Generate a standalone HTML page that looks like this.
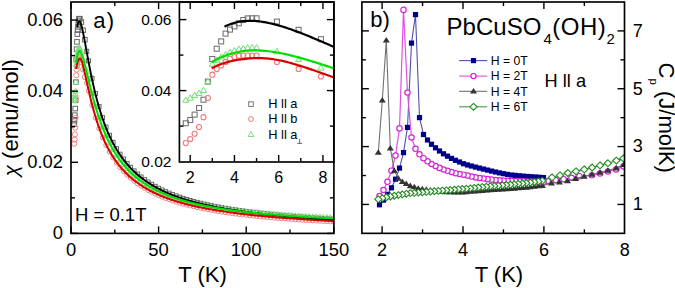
<!DOCTYPE html>
<html><head><meta charset="utf-8"><style>
html,body{margin:0;padding:0;background:#fff;overflow:hidden;}
svg{display:block;}
text{font-family:"Liberation Sans",sans-serif;fill:#000;}
</style></head><body>
<svg width="675" height="288" viewBox="0 0 675 288">
<rect width="675" height="288" fill="#fff"/>
<clipPath id="ca"><rect x="71.0" y="2.0" width="262.9" height="231.4"/></clipPath>
<g clip-path="url(#ca)">
<g fill="none" stroke="#666" stroke-width="1"><rect x="71.85" y="121.62" width="4.6" height="4.6"/><rect x="72.20" y="118.31" width="4.6" height="4.6"/><rect x="72.55" y="112.90" width="4.6" height="4.6"/><rect x="72.90" y="106.29" width="4.6" height="4.6"/><rect x="73.26" y="97.98" width="4.6" height="4.6"/><rect x="73.61" y="79.84" width="4.6" height="4.6"/><rect x="73.96" y="57.21" width="4.6" height="4.6"/><rect x="74.31" y="46.89" width="4.6" height="4.6"/><rect x="74.66" y="39.58" width="4.6" height="4.6"/><rect x="75.01" y="31.76" width="4.6" height="4.6"/><rect x="75.36" y="27.76" width="4.6" height="4.6"/><rect x="75.71" y="24.55" width="4.6" height="4.6"/><rect x="76.06" y="21.45" width="4.6" height="4.6"/><rect x="76.41" y="18.14" width="4.6" height="4.6"/><rect x="76.76" y="16.54" width="4.6" height="4.6"/><rect x="77.11" y="16.44" width="4.6" height="4.6"/><rect x="77.46" y="16.44" width="4.6" height="4.6"/><rect x="79.07" y="19.74" width="4.6" height="4.6"/><rect x="80.79" y="27.96" width="4.6" height="4.6"/><rect x="82.56" y="37.37" width="4.6" height="4.6"/><rect x="84.77" y="49.39" width="4.0" height="4.0"/><rect x="86.52" y="58.83" width="4.0" height="4.0"/><rect x="90.02" y="76.35" width="4.0" height="4.0"/><rect x="93.53" y="91.57" width="4.0" height="4.0"/><rect x="97.03" y="104.58" width="4.0" height="4.0"/><rect x="100.54" y="115.66" width="4.0" height="4.0"/><rect x="104.04" y="125.14" width="4.0" height="4.0"/><rect x="107.54" y="133.31" width="4.0" height="4.0"/><rect x="111.05" y="140.43" width="4.0" height="4.0"/><rect x="114.55" y="146.66" width="4.0" height="4.0"/><rect x="118.06" y="152.16" width="4.0" height="4.0"/><rect x="121.56" y="157.04" width="4.0" height="4.0"/><rect x="125.06" y="161.41" width="4.0" height="4.0"/><rect x="128.57" y="165.32" width="4.0" height="4.0"/><rect x="132.07" y="168.86" width="4.0" height="4.0"/><rect x="135.58" y="172.06" width="4.0" height="4.0"/><rect x="139.08" y="174.98" width="4.0" height="4.0"/><rect x="142.58" y="177.63" width="4.0" height="4.0"/><rect x="146.09" y="180.05" width="4.0" height="4.0"/><rect x="149.59" y="182.29" width="4.0" height="4.0"/><rect x="153.10" y="184.34" width="4.0" height="4.0"/><rect x="156.60" y="186.25" width="4.0" height="4.0"/><rect x="160.10" y="188.01" width="4.0" height="4.0"/><rect x="163.61" y="189.65" width="4.0" height="4.0"/><rect x="167.11" y="191.17" width="4.0" height="4.0"/><rect x="170.62" y="192.60" width="4.0" height="4.0"/><rect x="174.12" y="193.93" width="4.0" height="4.0"/><rect x="177.62" y="195.18" width="4.0" height="4.0"/><rect x="181.13" y="196.35" width="4.0" height="4.0"/><rect x="184.63" y="197.46" width="4.0" height="4.0"/><rect x="188.14" y="198.49" width="4.0" height="4.0"/><rect x="191.64" y="199.47" width="4.0" height="4.0"/><rect x="195.14" y="200.40" width="4.0" height="4.0"/><rect x="198.65" y="201.28" width="4.0" height="4.0"/><rect x="202.15" y="202.11" width="4.0" height="4.0"/><rect x="205.66" y="202.90" width="4.0" height="4.0"/><rect x="209.16" y="203.64" width="4.0" height="4.0"/><rect x="212.66" y="204.36" width="4.0" height="4.0"/><rect x="216.17" y="205.03" width="4.0" height="4.0"/><rect x="219.67" y="205.68" width="4.0" height="4.0"/><rect x="223.18" y="206.29" width="4.0" height="4.0"/><rect x="226.68" y="206.88" width="4.0" height="4.0"/><rect x="230.18" y="207.44" width="4.0" height="4.0"/><rect x="233.69" y="207.98" width="4.0" height="4.0"/><rect x="237.19" y="208.50" width="4.0" height="4.0"/><rect x="240.70" y="208.99" width="4.0" height="4.0"/><rect x="244.20" y="209.46" width="4.0" height="4.0"/><rect x="247.70" y="209.92" width="4.0" height="4.0"/><rect x="251.21" y="210.36" width="4.0" height="4.0"/><rect x="254.71" y="210.77" width="4.0" height="4.0"/><rect x="258.22" y="211.18" width="4.0" height="4.0"/><rect x="261.72" y="211.57" width="4.0" height="4.0"/><rect x="265.22" y="211.94" width="4.0" height="4.0"/><rect x="268.73" y="212.30" width="4.0" height="4.0"/><rect x="272.23" y="212.65" width="4.0" height="4.0"/><rect x="275.74" y="212.99" width="4.0" height="4.0"/><rect x="279.24" y="213.31" width="4.0" height="4.0"/><rect x="282.74" y="213.62" width="4.0" height="4.0"/><rect x="286.25" y="213.93" width="4.0" height="4.0"/><rect x="289.75" y="214.22" width="4.0" height="4.0"/><rect x="293.26" y="214.50" width="4.0" height="4.0"/><rect x="296.76" y="214.78" width="4.0" height="4.0"/><rect x="300.26" y="215.04" width="4.0" height="4.0"/><rect x="303.77" y="215.30" width="4.0" height="4.0"/><rect x="307.27" y="215.55" width="4.0" height="4.0"/><rect x="310.78" y="215.79" width="4.0" height="4.0"/><rect x="314.28" y="216.03" width="4.0" height="4.0"/><rect x="317.78" y="216.25" width="4.0" height="4.0"/><rect x="321.29" y="216.47" width="4.0" height="4.0"/><rect x="324.79" y="216.69" width="4.0" height="4.0"/><rect x="328.30" y="216.90" width="4.0" height="4.0"/><rect x="331.80" y="217.10" width="4.0" height="4.0"/></g>
<g fill="none" stroke="#f08080" stroke-width="1"><circle cx="74.15" cy="143.75" r="2.6"/><circle cx="74.50" cy="139.64" r="2.6"/><circle cx="74.85" cy="134.38" r="2.6"/><circle cx="75.20" cy="127.62" r="2.6"/><circle cx="75.56" cy="117.80" r="2.6"/><circle cx="75.91" cy="98.57" r="2.6"/><circle cx="76.26" cy="75.23" r="2.6"/><circle cx="76.61" cy="69.62" r="2.6"/><circle cx="76.96" cy="66.02" r="2.6"/><circle cx="77.31" cy="62.41" r="2.6"/><circle cx="77.66" cy="59.31" r="2.6"/><circle cx="78.01" cy="57.50" r="2.6"/><circle cx="78.36" cy="56.30" r="2.6"/><circle cx="78.71" cy="56.10" r="2.6"/><circle cx="79.06" cy="56.10" r="2.6"/><circle cx="79.41" cy="56.10" r="2.6"/><circle cx="79.76" cy="56.10" r="2.6"/><circle cx="81.37" cy="62.51" r="2.6"/><circle cx="83.09" cy="69.42" r="2.6"/><circle cx="84.86" cy="77.04" r="2.6"/><circle cx="86.77" cy="82.98" r="2.25"/><circle cx="88.52" cy="90.78" r="2.25"/><circle cx="92.02" cy="105.25" r="2.25"/><circle cx="95.53" cy="117.79" r="2.25"/><circle cx="99.03" cy="128.46" r="2.25"/><circle cx="102.54" cy="137.52" r="2.25"/><circle cx="106.04" cy="145.26" r="2.25"/><circle cx="109.54" cy="151.94" r="2.25"/><circle cx="113.05" cy="157.75" r="2.25"/><circle cx="116.55" cy="162.84" r="2.25"/><circle cx="120.06" cy="167.33" r="2.25"/><circle cx="123.56" cy="171.32" r="2.25"/><circle cx="127.06" cy="174.89" r="2.25"/><circle cx="130.57" cy="178.10" r="2.25"/><circle cx="134.07" cy="180.99" r="2.25"/><circle cx="137.58" cy="183.61" r="2.25"/><circle cx="141.08" cy="186.00" r="2.25"/><circle cx="144.58" cy="188.21" r="2.25"/><circle cx="148.09" cy="190.23" r="2.25"/><circle cx="151.59" cy="192.10" r="2.25"/><circle cx="155.10" cy="193.82" r="2.25"/><circle cx="158.60" cy="195.42" r="2.25"/><circle cx="162.10" cy="196.90" r="2.25"/><circle cx="165.61" cy="198.28" r="2.25"/><circle cx="169.11" cy="199.56" r="2.25"/><circle cx="172.62" cy="200.76" r="2.25"/><circle cx="176.12" cy="201.89" r="2.25"/><circle cx="179.62" cy="202.95" r="2.25"/><circle cx="183.13" cy="203.94" r="2.25"/><circle cx="186.63" cy="204.87" r="2.25"/><circle cx="190.14" cy="205.76" r="2.25"/><circle cx="193.64" cy="206.59" r="2.25"/><circle cx="197.14" cy="207.38" r="2.25"/><circle cx="200.65" cy="208.12" r="2.25"/><circle cx="204.15" cy="208.83" r="2.25"/><circle cx="207.66" cy="209.50" r="2.25"/><circle cx="211.16" cy="210.14" r="2.25"/><circle cx="214.66" cy="210.75" r="2.25"/><circle cx="218.17" cy="211.33" r="2.25"/><circle cx="221.67" cy="211.88" r="2.25"/><circle cx="225.18" cy="212.41" r="2.25"/><circle cx="228.68" cy="212.92" r="2.25"/><circle cx="232.18" cy="213.40" r="2.25"/><circle cx="235.69" cy="213.86" r="2.25"/><circle cx="239.19" cy="214.31" r="2.25"/><circle cx="242.70" cy="214.73" r="2.25"/><circle cx="246.20" cy="215.14" r="2.25"/><circle cx="249.70" cy="215.53" r="2.25"/><circle cx="253.21" cy="215.91" r="2.25"/><circle cx="256.71" cy="216.27" r="2.25"/><circle cx="260.22" cy="216.62" r="2.25"/><circle cx="263.72" cy="216.96" r="2.25"/><circle cx="267.22" cy="217.28" r="2.25"/><circle cx="270.73" cy="217.59" r="2.25"/><circle cx="274.23" cy="217.90" r="2.25"/><circle cx="277.74" cy="218.19" r="2.25"/><circle cx="281.24" cy="218.47" r="2.25"/><circle cx="284.74" cy="218.74" r="2.25"/><circle cx="288.25" cy="219.01" r="2.25"/><circle cx="291.75" cy="219.26" r="2.25"/><circle cx="295.26" cy="219.51" r="2.25"/><circle cx="298.76" cy="219.75" r="2.25"/><circle cx="302.26" cy="219.98" r="2.25"/><circle cx="305.77" cy="220.20" r="2.25"/><circle cx="309.27" cy="220.42" r="2.25"/><circle cx="312.78" cy="220.63" r="2.25"/><circle cx="316.28" cy="220.84" r="2.25"/><circle cx="319.78" cy="221.04" r="2.25"/><circle cx="323.29" cy="221.23" r="2.25"/><circle cx="326.79" cy="221.42" r="2.25"/><circle cx="330.30" cy="221.60" r="2.25"/><circle cx="333.80" cy="221.78" r="2.25"/></g>
<g fill="none" stroke="#80e080" stroke-width="1"><path d="M74.15,97.68 L77.05,102.68 L71.25,102.68 Z"/><path d="M74.50,95.57 L77.40,100.57 L71.60,100.57 Z"/><path d="M74.85,92.87 L77.75,97.87 L71.95,97.87 Z"/><path d="M75.20,90.76 L78.10,95.76 L72.30,95.76 Z"/><path d="M75.56,87.96 L78.46,92.96 L72.66,92.96 Z"/><path d="M75.91,79.24 L78.81,84.24 L73.01,84.24 Z"/><path d="M76.26,61.62 L79.16,66.62 L73.36,66.62 Z"/><path d="M76.61,57.61 L79.51,62.61 L73.71,62.61 Z"/><path d="M76.96,54.40 L79.86,59.40 L74.06,59.40 Z"/><path d="M77.31,52.00 L80.21,57.00 L74.41,57.00 Z"/><path d="M77.66,49.90 L80.56,54.90 L74.76,54.90 Z"/><path d="M78.01,48.19 L80.91,53.19 L75.11,53.19 Z"/><path d="M78.36,46.59 L81.26,51.59 L75.46,51.59 Z"/><path d="M78.71,45.99 L81.61,50.99 L75.81,50.99 Z"/><path d="M79.06,45.19 L81.96,50.19 L76.16,50.19 Z"/><path d="M79.41,45.09 L82.31,50.09 L76.51,50.09 Z"/><path d="M79.76,45.29 L82.66,50.29 L76.86,50.29 Z"/><path d="M81.37,49.09 L84.27,54.09 L78.47,54.09 Z"/><path d="M83.09,56.91 L85.99,61.91 L80.19,61.91 Z"/><path d="M84.86,65.42 L87.76,70.42 L81.96,70.42 Z"/><path d="M86.77,69.19 L89.57,73.99 L83.97,73.99 Z"/><path d="M88.52,76.58 L91.32,81.38 L85.72,81.38 Z"/><path d="M92.02,90.70 L94.82,95.50 L89.22,95.50 Z"/><path d="M95.53,103.38 L98.33,108.18 L92.73,108.18 Z"/><path d="M99.03,114.51 L101.83,119.31 L96.23,119.31 Z"/><path d="M102.54,124.21 L105.34,129.01 L99.74,129.01 Z"/><path d="M106.04,132.65 L108.84,137.45 L103.24,137.45 Z"/><path d="M109.54,140.03 L112.34,144.83 L106.74,144.83 Z"/><path d="M113.05,146.50 L115.85,151.30 L110.25,151.30 Z"/><path d="M116.55,152.20 L119.35,157.00 L113.75,157.00 Z"/><path d="M120.06,157.25 L122.86,162.05 L117.26,162.05 Z"/><path d="M123.56,161.75 L126.36,166.55 L120.76,166.55 Z"/><path d="M127.06,165.77 L129.86,170.57 L124.26,170.57 Z"/><path d="M130.57,169.38 L133.37,174.18 L127.77,174.18 Z"/><path d="M134.07,172.64 L136.87,177.44 L131.27,177.44 Z"/><path d="M137.58,175.59 L140.38,180.39 L134.78,180.39 Z"/><path d="M141.08,178.28 L143.88,183.08 L138.28,183.08 Z"/><path d="M144.58,180.68 L147.38,185.48 L141.78,185.48 Z"/><path d="M148.09,182.88 L150.89,187.68 L145.29,187.68 Z"/><path d="M151.59,184.89 L154.39,189.69 L148.79,189.69 Z"/><path d="M155.10,186.75 L157.90,191.55 L152.30,191.55 Z"/><path d="M158.60,188.46 L161.40,193.26 L155.80,193.26 Z"/><path d="M162.10,190.03 L164.90,194.83 L159.30,194.83 Z"/><path d="M165.61,191.50 L168.41,196.30 L162.81,196.30 Z"/><path d="M169.11,192.86 L171.91,197.66 L166.31,197.66 Z"/><path d="M172.62,194.12 L175.42,198.92 L169.82,198.92 Z"/><path d="M176.12,195.30 L178.92,200.10 L173.32,200.10 Z"/><path d="M179.62,196.40 L182.42,201.20 L176.82,201.20 Z"/><path d="M183.13,197.43 L185.93,202.23 L180.33,202.23 Z"/><path d="M186.63,198.40 L189.43,203.20 L183.83,203.20 Z"/><path d="M190.14,199.30 L192.94,204.10 L187.34,204.10 Z"/><path d="M193.64,200.16 L196.44,204.96 L190.84,204.96 Z"/><path d="M197.14,200.96 L199.94,205.76 L194.34,205.76 Z"/><path d="M200.65,201.72 L203.45,206.52 L197.85,206.52 Z"/><path d="M204.15,202.43 L206.95,207.23 L201.35,207.23 Z"/><path d="M207.66,203.11 L210.46,207.91 L204.86,207.91 Z"/><path d="M211.16,203.75 L213.96,208.55 L208.36,208.55 Z"/><path d="M214.66,204.36 L217.46,209.16 L211.86,209.16 Z"/><path d="M218.17,204.93 L220.97,209.73 L215.37,209.73 Z"/><path d="M221.67,205.48 L224.47,210.28 L218.87,210.28 Z"/><path d="M225.18,206.00 L227.98,210.80 L222.38,210.80 Z"/><path d="M228.68,206.49 L231.48,211.29 L225.88,211.29 Z"/><path d="M232.18,206.97 L234.98,211.77 L229.38,211.77 Z"/><path d="M235.69,207.41 L238.49,212.21 L232.89,212.21 Z"/><path d="M239.19,207.84 L241.99,212.64 L236.39,212.64 Z"/><path d="M242.70,208.25 L245.50,213.05 L239.90,213.05 Z"/><path d="M246.20,208.64 L249.00,213.44 L243.40,213.44 Z"/><path d="M249.70,209.02 L252.50,213.82 L246.90,213.82 Z"/><path d="M253.21,209.37 L256.01,214.17 L250.41,214.17 Z"/><path d="M256.71,209.72 L259.51,214.52 L253.91,214.52 Z"/><path d="M260.22,210.05 L263.02,214.85 L257.42,214.85 Z"/><path d="M263.72,210.36 L266.52,215.16 L260.92,215.16 Z"/><path d="M267.22,210.66 L270.02,215.46 L264.42,215.46 Z"/><path d="M270.73,210.95 L273.53,215.75 L267.93,215.75 Z"/><path d="M274.23,211.23 L277.03,216.03 L271.43,216.03 Z"/><path d="M277.74,211.50 L280.54,216.30 L274.94,216.30 Z"/><path d="M281.24,211.76 L284.04,216.56 L278.44,216.56 Z"/><path d="M284.74,212.01 L287.54,216.81 L281.94,216.81 Z"/><path d="M288.25,212.24 L291.05,217.04 L285.45,217.04 Z"/><path d="M291.75,212.47 L294.55,217.27 L288.95,217.27 Z"/><path d="M295.26,212.70 L298.06,217.50 L292.46,217.50 Z"/><path d="M298.76,212.91 L301.56,217.71 L295.96,217.71 Z"/><path d="M302.26,213.11 L305.06,217.91 L299.46,217.91 Z"/><path d="M305.77,213.31 L308.57,218.11 L302.97,218.11 Z"/><path d="M309.27,213.50 L312.07,218.30 L306.47,218.30 Z"/><path d="M312.78,213.69 L315.58,218.49 L309.98,218.49 Z"/><path d="M316.28,213.87 L319.08,218.67 L313.48,218.67 Z"/><path d="M319.78,214.04 L322.58,218.84 L316.98,218.84 Z"/><path d="M323.29,214.21 L326.09,219.01 L320.49,219.01 Z"/><path d="M326.79,214.37 L329.59,219.17 L323.99,219.17 Z"/><path d="M330.30,214.52 L333.10,219.32 L327.50,219.32 Z"/><path d="M333.80,214.67 L336.60,219.47 L331.00,219.47 Z"/></g>
<path d="M76.20,68.84 L76.45,67.21 L76.70,65.80 L76.96,64.58 L77.21,63.52 L77.46,62.61 L77.71,61.82 L77.96,61.13 L78.21,60.54 L78.46,60.03 L78.71,59.59 L78.96,59.22 L79.21,58.94 L79.46,58.73 L79.71,58.62 L79.96,58.60 L80.21,58.68 L80.46,58.86 L80.72,59.14 L80.97,59.51 L81.22,59.98 L81.47,60.55 L81.72,61.20 L81.97,61.92 L82.22,62.71 L82.47,63.56 L82.72,64.46 L82.97,65.40 L83.22,66.38 L83.47,67.39 L83.72,68.43 L83.97,69.49 L84.22,70.57 L84.48,71.67 L84.73,72.77 L84.98,73.89 L85.23,75.01 L85.48,76.14 L85.73,77.28 L85.98,78.41 L86.07,78.81 L86.38,80.24 L86.70,81.67 L87.01,83.09 L87.33,84.51 L87.64,85.92 L87.96,87.33 L88.27,88.72 L88.59,90.11 L88.90,91.48 L89.22,92.84 L89.53,94.18 L89.85,95.51 L90.16,96.83 L90.48,98.13 L90.79,99.42 L91.11,100.69 L91.42,101.95 L91.74,103.19 L92.05,104.42 L92.37,105.62 L92.68,106.82 L93.00,107.99 L93.31,109.15 L93.63,110.30 L93.94,111.43 L94.26,112.54 L94.57,113.64 L94.89,114.72 L95.20,115.78 L95.52,116.83 L95.83,117.87 L96.15,118.89 L96.46,119.90 L96.78,120.89 L97.09,121.86 L97.41,122.83 L97.72,123.77 L98.04,124.71 L98.35,125.63 L98.67,126.53 L98.98,127.43 L99.30,128.31 L99.62,129.18 L99.93,130.03 L100.25,130.87 L100.56,131.70 L100.88,132.52 L101.19,133.33 L101.51,134.12 L101.82,134.91 L102.14,135.68 L102.45,136.44 L102.77,137.19 L103.08,137.93 L103.40,138.66 L103.71,139.38 L104.03,140.09 L104.34,140.79 L104.66,141.48 L104.97,142.17 L105.29,142.84 L105.60,143.50 L105.92,144.16 L106.23,144.80 L106.55,145.44 L106.86,146.07 L107.18,146.69 L107.49,147.30 L107.81,147.91 L108.12,148.51 L108.44,149.10 L108.75,149.68 L109.07,150.26 L109.38,150.82 L109.70,151.39 L110.01,151.94 L110.33,152.49 L110.64,153.03 L110.96,153.56 L111.27,154.09 L111.59,154.61 L111.90,155.12 L112.22,155.63 L112.53,156.14 L112.85,156.63 L113.16,157.12 L113.48,157.61 L113.79,158.09 L114.11,158.56 L114.42,159.03 L114.74,159.50 L115.05,159.95 L115.37,160.41 L115.68,160.85 L116.00,161.30 L116.31,161.73 L116.63,162.17 L116.94,162.60 L117.26,163.02 L117.57,163.44 L117.89,163.85 L118.20,164.26 L118.52,164.67 L118.83,165.07 L119.15,165.46 L119.46,165.86 L119.78,166.24 L120.09,166.63 L120.41,167.01 L120.72,167.38 L121.04,167.76 L121.35,168.12 L121.67,168.49 L121.98,168.85 L122.30,169.21 L122.61,169.56 L122.93,169.91 L123.24,170.26 L123.56,170.60 L123.91,170.98 L125.67,172.81 L127.44,174.55 L129.20,176.20 L130.97,177.77 L132.73,179.26 L134.49,180.67 L136.26,182.02 L138.02,183.31 L139.78,184.53 L141.55,185.70 L143.31,186.83 L145.08,187.90 L146.84,188.93 L148.60,189.91 L150.37,190.85 L152.13,191.76 L153.89,192.63 L155.66,193.47 L157.42,194.28 L159.19,195.05 L160.95,195.80 L162.71,196.52 L164.48,197.22 L166.24,197.89 L168.00,198.54 L169.77,199.16 L171.53,199.77 L173.30,200.36 L175.06,200.92 L176.82,201.47 L178.59,202.00 L180.35,202.52 L182.12,203.02 L183.88,203.50 L185.64,203.97 L187.41,204.43 L189.17,204.87 L190.93,205.30 L192.70,205.72 L194.46,206.12 L196.23,206.52 L197.99,206.90 L199.75,207.27 L201.52,207.64 L203.28,207.99 L205.04,208.34 L206.81,208.68 L208.57,209.00 L210.34,209.32 L212.10,209.63 L213.86,209.94 L215.63,210.24 L217.39,210.53 L219.15,210.81 L220.92,211.08 L222.68,211.35 L224.45,211.62 L226.21,211.88 L227.97,212.13 L229.74,212.37 L231.50,212.61 L233.26,212.85 L235.03,213.08 L236.79,213.31 L238.56,213.53 L240.32,213.74 L242.08,213.95 L243.85,214.16 L245.61,214.36 L247.37,214.56 L249.14,214.76 L250.90,214.95 L252.67,215.14 L254.43,215.32 L256.19,215.50 L257.96,215.68 L259.72,215.85 L261.49,216.02 L263.25,216.19 L265.01,216.35 L266.78,216.51 L268.54,216.67 L270.30,216.82 L272.07,216.98 L273.83,217.12 L275.60,217.27 L277.36,217.42 L279.12,217.56 L280.89,217.70 L282.65,217.83 L284.41,217.97 L286.18,218.10 L287.94,218.23 L289.71,218.36 L291.47,218.48 L293.23,218.61 L295.00,218.73 L296.76,218.85 L298.52,218.97 L300.29,219.08 L302.05,219.20 L303.82,219.31 L305.58,219.42 L307.34,219.53 L309.11,219.64 L310.87,219.74 L312.63,219.85 L314.40,219.95 L316.16,220.05 L317.93,220.15 L319.69,220.25 L321.45,220.34 L323.22,220.44 L324.98,220.53 L326.74,220.63 L328.51,220.72 L330.27,220.81 L332.04,220.89 L333.80,220.98" fill="none" stroke="#d80000" stroke-width="2"/>
<path d="M77.22,27.26 L77.44,25.88 L77.67,24.70 L77.89,23.72 L78.12,22.92 L78.34,22.30 L78.57,21.83 L78.79,21.50 L79.02,21.31 L79.24,21.25 L79.47,21.31 L79.69,21.47 L79.91,21.73 L80.14,22.09 L80.36,22.53 L80.59,23.06 L80.81,23.65 L81.04,24.31 L81.26,25.04 L81.49,25.82 L81.71,26.65 L81.94,27.53 L82.16,28.46 L82.39,29.42 L82.61,30.42 L82.83,31.45 L83.06,32.52 L83.28,33.61 L83.51,34.72 L83.73,35.86 L83.96,37.01 L84.18,38.18 L84.41,39.36 L84.63,40.56 L84.86,41.76 L85.08,42.97 L85.31,44.19 L85.53,45.41 L85.75,46.64 L85.98,47.87 L86.07,48.35 L86.38,50.07 L86.70,51.79 L87.01,53.51 L87.33,55.22 L87.64,56.93 L87.96,58.62 L88.27,60.30 L88.59,61.97 L88.90,63.62 L89.22,65.26 L89.53,66.89 L89.85,68.49 L90.16,70.08 L90.48,71.66 L90.79,73.21 L91.11,74.75 L91.42,76.27 L91.74,77.77 L92.05,79.25 L92.37,80.71 L92.68,82.15 L93.00,83.57 L93.31,84.98 L93.63,86.36 L93.94,87.73 L94.26,89.08 L94.57,90.41 L94.89,91.72 L95.20,93.01 L95.52,94.28 L95.83,95.54 L96.15,96.78 L96.46,98.00 L96.78,99.20 L97.09,100.38 L97.41,101.55 L97.72,102.70 L98.04,103.84 L98.35,104.96 L98.67,106.06 L98.98,107.15 L99.30,108.22 L99.62,109.27 L99.93,110.31 L100.25,111.34 L100.56,112.35 L100.88,113.35 L101.19,114.33 L101.51,115.30 L101.82,116.25 L102.14,117.19 L102.45,118.12 L102.77,119.03 L103.08,119.93 L103.40,120.82 L103.71,121.70 L104.03,122.57 L104.34,123.42 L104.66,124.26 L104.97,125.09 L105.29,125.91 L105.60,126.72 L105.92,127.52 L106.23,128.30 L106.55,129.08 L106.86,129.85 L107.18,130.60 L107.49,131.35 L107.81,132.09 L108.12,132.81 L108.44,133.53 L108.75,134.24 L109.07,134.94 L109.38,135.63 L109.70,136.31 L110.01,136.99 L110.33,137.65 L110.64,138.31 L110.96,138.96 L111.27,139.60 L111.59,140.24 L111.90,140.86 L112.22,141.48 L112.53,142.09 L112.85,142.70 L113.16,143.29 L113.48,143.88 L113.79,144.46 L114.11,145.04 L114.42,145.61 L114.74,146.17 L115.05,146.73 L115.37,147.28 L115.68,147.82 L116.00,148.36 L116.31,148.89 L116.63,149.42 L116.94,149.94 L117.26,150.45 L117.57,150.96 L117.89,151.46 L118.20,151.96 L118.52,152.45 L118.83,152.93 L119.15,153.42 L119.46,153.89 L119.78,154.36 L120.09,154.83 L120.41,155.29 L120.72,155.74 L121.04,156.19 L121.35,156.64 L121.67,157.08 L121.98,157.52 L122.30,157.95 L122.61,158.38 L122.93,158.80 L123.24,159.22 L123.56,159.64 L123.91,160.09 L125.67,162.31 L127.44,164.42 L129.20,166.41 L130.97,168.30 L132.73,170.09 L134.49,171.80 L136.26,173.42 L138.02,174.96 L139.78,176.44 L141.55,177.85 L143.31,179.19 L145.08,180.48 L146.84,181.71 L148.60,182.89 L150.37,184.02 L152.13,185.10 L153.89,186.14 L155.66,187.14 L157.42,188.11 L159.19,189.03 L160.95,189.92 L162.71,190.78 L164.48,191.61 L166.24,192.40 L168.00,193.17 L169.77,193.92 L171.53,194.64 L173.30,195.33 L175.06,196.00 L176.82,196.65 L178.59,197.28 L180.35,197.89 L182.12,198.48 L183.88,199.05 L185.64,199.60 L187.41,200.14 L189.17,200.66 L190.93,201.17 L192.70,201.66 L194.46,202.14 L196.23,202.61 L197.99,203.06 L199.75,203.50 L201.52,203.92 L203.28,204.34 L205.04,204.75 L206.81,205.14 L208.57,205.52 L210.34,205.90 L212.10,206.26 L213.86,206.62 L215.63,206.97 L217.39,207.31 L219.15,207.64 L220.92,207.96 L222.68,208.27 L224.45,208.58 L226.21,208.88 L227.97,209.18 L229.74,209.46 L231.50,209.74 L233.26,210.02 L235.03,210.29 L236.79,210.55 L238.56,210.80 L240.32,211.06 L242.08,211.30 L243.85,211.54 L245.61,211.78 L247.37,212.01 L249.14,212.23 L250.90,212.46 L252.67,212.67 L254.43,212.89 L256.19,213.09 L257.96,213.30 L259.72,213.50 L261.49,213.70 L263.25,213.89 L265.01,214.08 L266.78,214.26 L268.54,214.45 L270.30,214.62 L272.07,214.80 L273.83,214.97 L275.60,215.14 L277.36,215.31 L279.12,215.47 L280.89,215.63 L282.65,215.79 L284.41,215.94 L286.18,216.10 L287.94,216.25 L289.71,216.39 L291.47,216.54 L293.23,216.68 L295.00,216.82 L296.76,216.96 L298.52,217.09 L300.29,217.23 L302.05,217.36 L303.82,217.49 L305.58,217.61 L307.34,217.74 L309.11,217.86 L310.87,217.98 L312.63,218.10 L314.40,218.22 L316.16,218.34 L317.93,218.45 L319.69,218.56 L321.45,218.67 L323.22,218.78 L324.98,218.89 L326.74,218.99 L328.51,219.10 L330.27,219.20 L332.04,219.30 L333.80,219.40" fill="none" stroke="#000" stroke-width="1.9"/>
<path d="M76.20,62.83 L76.45,60.99 L76.70,59.33 L76.96,57.84 L77.21,56.51 L77.46,55.35 L77.71,54.34 L77.96,53.47 L78.21,52.74 L78.46,52.14 L78.71,51.67 L78.96,51.32 L79.21,51.09 L79.46,50.96 L79.71,50.93 L79.96,51.00 L80.21,51.16 L80.46,51.41 L80.72,51.74 L80.97,52.14 L81.22,52.62 L81.47,53.17 L81.72,53.78 L81.97,54.44 L82.22,55.15 L82.47,55.91 L82.72,56.71 L82.97,57.54 L83.22,58.41 L83.47,59.31 L83.72,60.23 L83.97,61.17 L84.22,62.14 L84.48,63.12 L84.73,64.12 L84.98,65.13 L85.23,66.15 L85.48,67.18 L85.73,68.22 L85.98,69.26 L86.07,69.63 L86.38,70.95 L86.70,72.27 L87.01,73.60 L87.33,74.93 L87.64,76.26 L87.96,77.59 L88.27,78.91 L88.59,80.23 L88.90,81.54 L89.22,82.84 L89.53,84.14 L89.85,85.43 L90.16,86.70 L90.48,87.97 L90.79,89.23 L91.11,90.48 L91.42,91.71 L91.74,92.93 L92.05,94.15 L92.37,95.35 L92.68,96.53 L93.00,97.71 L93.31,98.87 L93.63,100.02 L93.94,101.16 L94.26,102.28 L94.57,103.40 L94.89,104.50 L95.20,105.58 L95.52,106.66 L95.83,107.72 L96.15,108.76 L96.46,109.80 L96.78,110.82 L97.09,111.83 L97.41,112.83 L97.72,113.82 L98.04,114.79 L98.35,115.75 L98.67,116.70 L98.98,117.64 L99.30,118.57 L99.62,119.49 L99.93,120.39 L100.25,121.28 L100.56,122.16 L100.88,123.04 L101.19,123.90 L101.51,124.74 L101.82,125.58 L102.14,126.41 L102.45,127.23 L102.77,128.04 L103.08,128.83 L103.40,129.62 L103.71,130.40 L104.03,131.17 L104.34,131.93 L104.66,132.68 L104.97,133.42 L105.29,134.15 L105.60,134.87 L105.92,135.59 L106.23,136.29 L106.55,136.99 L106.86,137.68 L107.18,138.36 L107.49,139.03 L107.81,139.69 L108.12,140.35 L108.44,140.99 L108.75,141.63 L109.07,142.27 L109.38,142.89 L109.70,143.51 L110.01,144.12 L110.33,144.72 L110.64,145.32 L110.96,145.91 L111.27,146.49 L111.59,147.06 L111.90,147.63 L112.22,148.20 L112.53,148.75 L112.85,149.30 L113.16,149.84 L113.48,150.38 L113.79,150.91 L114.11,151.44 L114.42,151.96 L114.74,152.47 L115.05,152.98 L115.37,153.48 L115.68,153.98 L116.00,154.47 L116.31,154.95 L116.63,155.43 L116.94,155.91 L117.26,156.38 L117.57,156.84 L117.89,157.30 L118.20,157.76 L118.52,158.21 L118.83,158.65 L119.15,159.09 L119.46,159.53 L119.78,159.96 L120.09,160.39 L120.41,160.81 L120.72,161.23 L121.04,161.64 L121.35,162.05 L121.67,162.46 L121.98,162.86 L122.30,163.25 L122.61,163.65 L122.93,164.04 L123.24,164.42 L123.56,164.80 L123.91,165.22 L125.67,167.26 L127.44,169.19 L129.20,171.02 L130.97,172.76 L132.73,174.40 L134.49,175.97 L136.26,177.46 L138.02,178.87 L139.78,180.23 L141.55,181.51 L143.31,182.75 L145.08,183.92 L146.84,185.05 L148.60,186.12 L150.37,187.15 L152.13,188.14 L153.89,189.09 L155.66,190.00 L157.42,190.87 L159.19,191.71 L160.95,192.52 L162.71,193.30 L164.48,194.05 L166.24,194.77 L168.00,195.47 L169.77,196.14 L171.53,196.78 L173.30,197.41 L175.06,198.01 L176.82,198.60 L178.59,199.16 L180.35,199.71 L182.12,200.24 L183.88,200.75 L185.64,201.24 L187.41,201.72 L189.17,202.19 L190.93,202.64 L192.70,203.08 L194.46,203.50 L196.23,203.92 L197.99,204.32 L199.75,204.71 L201.52,205.09 L203.28,205.46 L205.04,205.81 L206.81,206.16 L208.57,206.50 L210.34,206.83 L212.10,207.15 L213.86,207.47 L215.63,207.77 L217.39,208.07 L219.15,208.36 L220.92,208.64 L222.68,208.92 L224.45,209.19 L226.21,209.45 L227.97,209.71 L229.74,209.96 L231.50,210.21 L233.26,210.44 L235.03,210.68 L236.79,210.91 L238.56,211.13 L240.32,211.35 L242.08,211.56 L243.85,211.77 L245.61,211.98 L247.37,212.18 L249.14,212.37 L250.90,212.56 L252.67,212.75 L254.43,212.93 L256.19,213.11 L257.96,213.29 L259.72,213.46 L261.49,213.63 L263.25,213.80 L265.01,213.96 L266.78,214.12 L268.54,214.28 L270.30,214.43 L272.07,214.58 L273.83,214.73 L275.60,214.87 L277.36,215.01 L279.12,215.15 L280.89,215.29 L282.65,215.43 L284.41,215.56 L286.18,215.69 L287.94,215.81 L289.71,215.94 L291.47,216.06 L293.23,216.18 L295.00,216.30 L296.76,216.42 L298.52,216.53 L300.29,216.65 L302.05,216.76 L303.82,216.87 L305.58,216.97 L307.34,217.08 L309.11,217.18 L310.87,217.28 L312.63,217.38 L314.40,217.48 L316.16,217.58 L317.93,217.68 L319.69,217.77 L321.45,217.86 L323.22,217.95 L324.98,218.04 L326.74,218.13 L328.51,218.22 L330.27,218.30 L332.04,218.39 L333.80,218.47" fill="none" stroke="#00dd00" stroke-width="2"/>
</g>
<rect x="179.4" y="2.0" width="154.50" height="160.00" fill="#fff"/>
<clipPath id="ci"><rect x="179.4" y="2.0" width="154.50" height="160.00"/></clipPath>
<g clip-path="url(#ci)">
<g fill="none" stroke="#707070" stroke-width="1.05"><rect x="183.28" y="120.80" width="5.0" height="5.0"/><rect x="187.70" y="117.50" width="5.0" height="5.0"/><rect x="192.12" y="112.10" width="5.0" height="5.0"/><rect x="196.55" y="105.50" width="5.0" height="5.0"/><rect x="200.97" y="97.20" width="5.0" height="5.0"/><rect x="205.40" y="79.10" width="5.0" height="5.0"/><rect x="209.82" y="56.50" width="5.0" height="5.0"/><rect x="214.24" y="46.20" width="5.0" height="5.0"/><rect x="218.67" y="38.90" width="5.0" height="5.0"/><rect x="223.09" y="31.10" width="5.0" height="5.0"/><rect x="227.52" y="27.10" width="5.0" height="5.0"/><rect x="231.94" y="23.90" width="5.0" height="5.0"/><rect x="236.36" y="20.80" width="5.0" height="5.0"/><rect x="240.79" y="17.50" width="5.0" height="5.0"/><rect x="245.21" y="15.90" width="5.0" height="5.0"/><rect x="249.64" y="15.80" width="5.0" height="5.0"/><rect x="254.06" y="15.80" width="5.0" height="5.0"/><rect x="274.41" y="19.10" width="5.0" height="5.0"/><rect x="296.09" y="27.30" width="5.0" height="5.0"/><rect x="318.43" y="36.70" width="5.0" height="5.0"/></g>
<g fill="none" stroke="#f07878" stroke-width="1.05"><circle cx="185.78" cy="143.10" r="2.55"/><circle cx="190.20" cy="139.00" r="2.55"/><circle cx="194.62" cy="133.75" r="2.55"/><circle cx="199.05" cy="127.00" r="2.55"/><circle cx="203.47" cy="117.20" r="2.55"/><circle cx="207.90" cy="98.00" r="2.55"/><circle cx="212.32" cy="74.70" r="2.55"/><circle cx="216.74" cy="69.10" r="2.55"/><circle cx="221.17" cy="65.50" r="2.55"/><circle cx="225.59" cy="61.90" r="2.55"/><circle cx="230.02" cy="58.80" r="2.55"/><circle cx="234.44" cy="57.00" r="2.55"/><circle cx="238.86" cy="55.80" r="2.55"/><circle cx="243.29" cy="55.60" r="2.55"/><circle cx="247.71" cy="55.60" r="2.55"/><circle cx="252.14" cy="55.60" r="2.55"/><circle cx="256.56" cy="55.60" r="2.55"/><circle cx="276.91" cy="62.00" r="2.55"/><circle cx="298.59" cy="68.90" r="2.55"/><circle cx="320.93" cy="76.50" r="2.55"/></g>
<g fill="none" stroke="#70e070" stroke-width="1.0"><path d="M185.78,96.95 L188.88,102.25 L182.68,102.25 Z"/><path d="M190.20,94.85 L193.30,100.15 L187.10,100.15 Z"/><path d="M194.62,92.15 L197.72,97.45 L191.52,97.45 Z"/><path d="M199.05,90.05 L202.15,95.35 L195.95,95.35 Z"/><path d="M203.47,87.25 L206.57,92.55 L200.37,92.55 Z"/><path d="M207.90,78.55 L211.00,83.85 L204.80,83.85 Z"/><path d="M212.32,60.95 L215.42,66.25 L209.22,66.25 Z"/><path d="M216.74,56.95 L219.84,62.25 L213.64,62.25 Z"/><path d="M221.17,53.75 L224.27,59.05 L218.07,59.05 Z"/><path d="M225.59,51.35 L228.69,56.65 L222.49,56.65 Z"/><path d="M230.02,49.25 L233.12,54.55 L226.92,54.55 Z"/><path d="M234.44,47.55 L237.54,52.85 L231.34,52.85 Z"/><path d="M238.86,45.95 L241.96,51.25 L235.76,51.25 Z"/><path d="M243.29,45.35 L246.39,50.65 L240.19,50.65 Z"/><path d="M247.71,44.55 L250.81,49.85 L244.61,49.85 Z"/><path d="M252.14,44.45 L255.24,49.75 L249.04,49.75 Z"/><path d="M256.56,44.65 L259.66,49.95 L253.46,49.95 Z"/><path d="M276.91,48.45 L280.01,53.75 L273.81,53.75 Z"/><path d="M298.59,56.25 L301.69,61.55 L295.49,61.55 Z"/><path d="M320.93,64.75 L324.03,70.05 L317.83,70.05 Z"/></g>
<path d="M224.49,26.81 L226.38,25.86 L228.27,25.01 L230.17,24.25 L232.06,23.58 L233.95,22.99 L235.85,22.48 L237.74,22.04 L239.63,21.68 L241.53,21.38 L243.42,21.15 L245.31,20.98 L247.21,20.87 L249.10,20.82 L250.99,20.82 L252.89,20.87 L254.78,20.96 L256.67,21.11 L258.57,21.30 L260.46,21.52 L262.35,21.79 L264.25,22.10 L266.14,22.44 L268.03,22.81 L269.93,23.22 L271.82,23.65 L273.71,24.12 L275.61,24.61 L277.50,25.12 L279.39,25.66 L281.29,26.23 L283.18,26.81 L285.07,27.41 L286.97,28.03 L288.86,28.67 L290.75,29.33 L292.65,30.00 L294.54,30.68 L296.43,31.38 L298.33,32.10 L300.22,32.82 L302.11,33.56 L304.01,34.30 L305.90,35.06 L307.79,35.82 L309.69,36.59 L311.58,37.37 L313.47,38.15 L315.37,38.94 L317.26,39.74 L319.15,40.54 L321.05,41.34 L322.94,42.15 L324.83,42.96 L326.73,43.77 L328.62,44.59 L330.51,45.41 L332.41,46.22 L334.30,47.04 L336.19,47.86" fill="none" stroke="#000" stroke-width="2.2"/>
<path d="M211.66,68.32 L213.77,67.21 L215.88,66.20 L217.99,65.28 L220.10,64.45 L222.21,63.69 L224.32,63.01 L226.43,62.38 L228.54,61.82 L230.65,61.30 L232.76,60.84 L234.87,60.41 L236.99,60.03 L239.10,59.68 L241.21,59.37 L243.32,59.08 L245.43,58.83 L247.54,58.61 L249.65,58.43 L251.76,58.28 L253.87,58.18 L255.98,58.12 L258.09,58.09 L260.20,58.12 L262.31,58.18 L264.43,58.29 L266.54,58.44 L268.65,58.63 L270.76,58.87 L272.87,59.15 L274.98,59.48 L277.09,59.85 L279.20,60.25 L281.31,60.69 L283.42,61.17 L285.53,61.67 L287.64,62.21 L289.75,62.77 L291.87,63.35 L293.98,63.95 L296.09,64.58 L298.20,65.22 L300.31,65.87 L302.42,66.54 L304.53,67.23 L306.64,67.92 L308.75,68.62 L310.86,69.34 L312.97,70.06 L315.08,70.79 L317.20,71.52 L319.31,72.26 L321.42,73.00 L323.53,73.75 L325.64,74.50 L327.75,75.25 L329.86,76.00 L331.97,76.76 L334.08,77.51 L336.19,78.27" fill="none" stroke="#d80000" stroke-width="2.2"/>
<path d="M211.66,62.32 L213.77,61.07 L215.88,59.91 L217.99,58.82 L220.10,57.81 L222.21,56.87 L224.32,56.01 L226.43,55.22 L228.54,54.49 L230.65,53.84 L232.76,53.24 L234.87,52.71 L236.99,52.24 L239.10,51.83 L241.21,51.48 L243.32,51.18 L245.43,50.93 L247.54,50.74 L249.65,50.59 L251.76,50.50 L253.87,50.45 L255.98,50.44 L258.09,50.48 L260.20,50.55 L262.31,50.67 L264.43,50.83 L266.54,51.02 L268.65,51.25 L270.76,51.51 L272.87,51.80 L274.98,52.13 L277.09,52.49 L279.20,52.87 L281.31,53.28 L283.42,53.72 L285.53,54.18 L287.64,54.66 L289.75,55.16 L291.87,55.68 L293.98,56.21 L296.09,56.77 L298.20,57.33 L300.31,57.92 L302.42,58.51 L304.53,59.11 L306.64,59.73 L308.75,60.36 L310.86,60.99 L312.97,61.64 L315.08,62.29 L317.20,62.95 L319.31,63.61 L321.42,64.29 L323.53,64.96 L325.64,65.64 L327.75,66.33 L329.86,67.02 L331.97,67.71 L334.08,68.41 L336.19,69.10" fill="none" stroke="#00dd00" stroke-width="2.2"/>
</g>
<clipPath id="cb"><rect x="361.9" y="2.0" width="262.6" height="231.35"/></clipPath>
<g clip-path="url(#cb)">
<path d="M379.50,204.80 L383.50,200.10 L387.50,194.40 L391.50,187.80 L395.50,179.20 L399.50,168.10 L403.50,152.60 L407.50,127.40 L411.50,43.10 L415.50,14.60 L419.50,117.60 L423.50,134.50 L427.50,140.00 L431.50,144.30 L435.50,147.80 L439.50,151.00 L443.50,153.80 L447.50,156.20 L451.50,158.40 L455.50,160.30 L459.50,162.00 L463.50,163.73 L467.50,164.97 L471.50,166.04 L475.50,167.10 L479.50,168.09 L483.50,169.09 L487.50,170.08 L491.50,171.08 L495.50,171.99 L499.50,172.89 L503.50,173.66 L507.50,174.43 L511.50,175.04 L515.50,175.41 L519.50,175.79 L523.50,176.16 L527.50,176.47 L531.50,176.73 L535.50,177.00 L539.50,177.27 L543.50,177.59" fill="none" stroke="#5050b0" stroke-width="1.1"/>
<g fill="#000090"><rect x="376.90" y="202.20" width="5.2" height="5.2"/><rect x="380.90" y="197.50" width="5.2" height="5.2"/><rect x="384.90" y="191.80" width="5.2" height="5.2"/><rect x="388.90" y="185.20" width="5.2" height="5.2"/><rect x="392.90" y="176.60" width="5.2" height="5.2"/><rect x="396.90" y="165.50" width="5.2" height="5.2"/><rect x="400.90" y="150.00" width="5.2" height="5.2"/><rect x="404.90" y="124.80" width="5.2" height="5.2"/><rect x="408.90" y="40.50" width="5.2" height="5.2"/><rect x="412.90" y="12.00" width="5.2" height="5.2"/><rect x="416.90" y="115.00" width="5.2" height="5.2"/><rect x="420.90" y="131.90" width="5.2" height="5.2"/><rect x="424.90" y="137.40" width="5.2" height="5.2"/><rect x="428.90" y="141.70" width="5.2" height="5.2"/><rect x="432.90" y="145.20" width="5.2" height="5.2"/><rect x="436.90" y="148.40" width="5.2" height="5.2"/><rect x="440.90" y="151.20" width="5.2" height="5.2"/><rect x="444.90" y="153.60" width="5.2" height="5.2"/><rect x="448.90" y="155.80" width="5.2" height="5.2"/><rect x="452.90" y="157.70" width="5.2" height="5.2"/><rect x="456.90" y="159.40" width="5.2" height="5.2"/><rect x="460.90" y="161.13" width="5.2" height="5.2"/><rect x="464.90" y="162.37" width="5.2" height="5.2"/><rect x="468.90" y="163.44" width="5.2" height="5.2"/><rect x="472.90" y="164.50" width="5.2" height="5.2"/><rect x="476.90" y="165.49" width="5.2" height="5.2"/><rect x="480.90" y="166.49" width="5.2" height="5.2"/><rect x="484.90" y="167.48" width="5.2" height="5.2"/><rect x="488.90" y="168.48" width="5.2" height="5.2"/><rect x="492.90" y="169.39" width="5.2" height="5.2"/><rect x="496.90" y="170.29" width="5.2" height="5.2"/><rect x="500.90" y="171.06" width="5.2" height="5.2"/><rect x="504.90" y="171.83" width="5.2" height="5.2"/><rect x="508.90" y="172.44" width="5.2" height="5.2"/><rect x="512.90" y="172.81" width="5.2" height="5.2"/><rect x="516.90" y="173.19" width="5.2" height="5.2"/><rect x="520.90" y="173.56" width="5.2" height="5.2"/><rect x="524.90" y="173.87" width="5.2" height="5.2"/><rect x="528.90" y="174.13" width="5.2" height="5.2"/><rect x="532.90" y="174.40" width="5.2" height="5.2"/><rect x="536.90" y="174.67" width="5.2" height="5.2"/><rect x="540.90" y="174.99" width="5.2" height="5.2"/></g>
<path d="M379.50,196.00 L383.50,190.00 L387.50,181.80 L391.50,170.70 L395.50,155.60 L399.50,128.40 L403.50,9.90 L407.50,92.50 L411.50,137.50 L415.50,148.80 L419.50,154.30 L423.50,158.20 L427.50,161.30 L431.50,164.00 L435.50,166.00 L439.50,167.90 L443.50,169.50 L447.50,170.80 L451.50,172.00 L455.50,173.20 L459.50,174.00 L463.50,174.72 L467.50,175.59 L471.50,176.54 L475.50,177.42 L479.50,177.99 L483.50,178.57 L487.50,179.14 L491.50,179.63 L495.50,180.00 L499.50,180.36 L503.50,180.56 L507.50,180.74 L511.50,180.92 L515.50,181.10 L519.50,181.28 L523.50,181.39 L527.50,181.50 L531.50,181.61 L535.50,181.72 L539.50,181.82 L543.50,181.93 L547.80,181.00 L555.70,180.10 L563.60,179.20 L571.50,177.80 L579.40,176.20 L591.90,175.30 L600.00,173.50 L607.90,171.50 L616.20,169.40 L623.60,166.40" fill="none" stroke="#e050e0" stroke-width="1.2"/>
<g fill="#fff" stroke="#d424d4" stroke-width="1.2"><circle cx="623.60" cy="166.40" r="2.7"/><circle cx="616.20" cy="169.40" r="2.7"/><circle cx="607.90" cy="171.50" r="2.7"/><circle cx="600.00" cy="173.50" r="2.7"/><circle cx="591.90" cy="175.30" r="2.7"/><circle cx="579.40" cy="176.20" r="2.7"/><circle cx="571.50" cy="177.80" r="2.7"/><circle cx="563.60" cy="179.20" r="2.7"/><circle cx="555.70" cy="180.10" r="2.7"/><circle cx="547.80" cy="181.00" r="2.7"/><circle cx="543.50" cy="181.93" r="2.7"/><circle cx="539.50" cy="181.82" r="2.7"/><circle cx="535.50" cy="181.72" r="2.7"/><circle cx="531.50" cy="181.61" r="2.7"/><circle cx="527.50" cy="181.50" r="2.7"/><circle cx="523.50" cy="181.39" r="2.7"/><circle cx="519.50" cy="181.28" r="2.7"/><circle cx="515.50" cy="181.10" r="2.7"/><circle cx="511.50" cy="180.92" r="2.7"/><circle cx="507.50" cy="180.74" r="2.7"/><circle cx="503.50" cy="180.56" r="2.7"/><circle cx="499.50" cy="180.36" r="2.7"/><circle cx="495.50" cy="180.00" r="2.7"/><circle cx="491.50" cy="179.63" r="2.7"/><circle cx="487.50" cy="179.14" r="2.7"/><circle cx="483.50" cy="178.57" r="2.7"/><circle cx="479.50" cy="177.99" r="2.7"/><circle cx="475.50" cy="177.42" r="2.7"/><circle cx="471.50" cy="176.54" r="2.7"/><circle cx="467.50" cy="175.59" r="2.7"/><circle cx="463.50" cy="174.72" r="2.7"/><circle cx="459.50" cy="174.00" r="2.7"/><circle cx="455.50" cy="173.20" r="2.7"/><circle cx="451.50" cy="172.00" r="2.7"/><circle cx="447.50" cy="170.80" r="2.7"/><circle cx="443.50" cy="169.50" r="2.7"/><circle cx="439.50" cy="167.90" r="2.7"/><circle cx="435.50" cy="166.00" r="2.7"/><circle cx="431.50" cy="164.00" r="2.7"/><circle cx="427.50" cy="161.30" r="2.7"/><circle cx="423.50" cy="158.20" r="2.7"/><circle cx="419.50" cy="154.30" r="2.7"/><circle cx="415.50" cy="148.80" r="2.7"/><circle cx="411.50" cy="137.50" r="2.7"/><circle cx="407.50" cy="92.50" r="2.7"/><circle cx="403.50" cy="9.90" r="2.7"/><circle cx="399.50" cy="128.40" r="2.7"/><circle cx="395.50" cy="155.60" r="2.7"/><circle cx="391.50" cy="170.70" r="2.7"/><circle cx="387.50" cy="181.80" r="2.7"/><circle cx="383.50" cy="190.00" r="2.7"/><circle cx="379.50" cy="196.00" r="2.7"/></g>
<path d="M378.30,152.50 L382.30,100.30 L386.30,40.30 L390.30,148.20 L394.30,170.70 L398.30,178.40 L402.30,181.70 L406.30,183.80 L410.30,185.90 L414.30,187.00 L418.30,188.50 L422.30,189.01 L426.30,189.63 L430.30,190.23 L434.30,190.66 L438.30,191.09 L442.30,191.51 L446.30,191.84 L450.30,191.98 L454.30,192.11 L458.30,192.24 L462.30,192.13 L466.30,191.84 L470.30,191.54 L474.30,191.25 L478.30,190.94 L482.30,190.62 L486.30,190.30 L490.30,189.98 L494.30,189.74 L498.30,189.50 L502.30,189.26 L506.30,189.02 L510.30,188.77 L514.30,188.41 L518.30,188.05 L522.30,187.69 L526.30,187.33 L530.30,186.97 L534.30,186.52 L538.30,186.07 L542.30,185.62 L551.50,183.30 L559.40,182.20 L567.50,181.00 L575.70,178.60 L584.20,176.40 L591.90,174.50 L600.00,172.50 L607.90,170.50 L616.20,168.10 L623.60,164.80" fill="none" stroke="#707070" stroke-width="1.1"/>
<g fill="#333"><path d="M378.30,149.20 L381.80,154.80 L374.80,154.80 Z"/><path d="M382.30,97.00 L385.80,102.60 L378.80,102.60 Z"/><path d="M386.30,37.00 L389.80,42.60 L382.80,42.60 Z"/><path d="M390.30,144.90 L393.80,150.50 L386.80,150.50 Z"/><path d="M394.30,167.40 L397.80,173.00 L390.80,173.00 Z"/><path d="M398.30,175.10 L401.80,180.70 L394.80,180.70 Z"/><path d="M402.30,178.40 L405.80,184.00 L398.80,184.00 Z"/><path d="M406.30,180.50 L409.80,186.10 L402.80,186.10 Z"/><path d="M410.30,182.60 L413.80,188.20 L406.80,188.20 Z"/><path d="M414.30,183.70 L417.80,189.30 L410.80,189.30 Z"/><path d="M418.30,185.20 L421.80,190.80 L414.80,190.80 Z"/><path d="M422.30,185.71 L425.80,191.31 L418.80,191.31 Z"/><path d="M426.30,186.33 L429.80,191.93 L422.80,191.93 Z"/><path d="M430.30,186.93 L433.80,192.53 L426.80,192.53 Z"/><path d="M434.30,187.36 L437.80,192.96 L430.80,192.96 Z"/><path d="M438.30,187.79 L441.80,193.39 L434.80,193.39 Z"/><path d="M442.30,188.21 L445.80,193.81 L438.80,193.81 Z"/><path d="M446.30,188.54 L449.80,194.14 L442.80,194.14 Z"/><path d="M450.30,188.68 L453.80,194.28 L446.80,194.28 Z"/><path d="M454.30,188.81 L457.80,194.41 L450.80,194.41 Z"/><path d="M458.30,188.94 L461.80,194.54 L454.80,194.54 Z"/><path d="M462.30,188.83 L465.80,194.43 L458.80,194.43 Z"/><path d="M466.30,188.54 L469.80,194.14 L462.80,194.14 Z"/><path d="M470.30,188.24 L473.80,193.84 L466.80,193.84 Z"/><path d="M474.30,187.95 L477.80,193.55 L470.80,193.55 Z"/><path d="M478.30,187.64 L481.80,193.24 L474.80,193.24 Z"/><path d="M482.30,187.32 L485.80,192.92 L478.80,192.92 Z"/><path d="M486.30,187.00 L489.80,192.60 L482.80,192.60 Z"/><path d="M490.30,186.68 L493.80,192.28 L486.80,192.28 Z"/><path d="M494.30,186.44 L497.80,192.04 L490.80,192.04 Z"/><path d="M498.30,186.20 L501.80,191.80 L494.80,191.80 Z"/><path d="M502.30,185.96 L505.80,191.56 L498.80,191.56 Z"/><path d="M506.30,185.72 L509.80,191.32 L502.80,191.32 Z"/><path d="M510.30,185.47 L513.80,191.07 L506.80,191.07 Z"/><path d="M514.30,185.11 L517.80,190.71 L510.80,190.71 Z"/><path d="M518.30,184.75 L521.80,190.35 L514.80,190.35 Z"/><path d="M522.30,184.39 L525.80,189.99 L518.80,189.99 Z"/><path d="M526.30,184.03 L529.80,189.63 L522.80,189.63 Z"/><path d="M530.30,183.67 L533.80,189.27 L526.80,189.27 Z"/><path d="M534.30,183.22 L537.80,188.82 L530.80,188.82 Z"/><path d="M538.30,182.77 L541.80,188.37 L534.80,188.37 Z"/><path d="M542.30,182.32 L545.80,187.92 L538.80,187.92 Z"/><path d="M551.50,180.00 L555.00,185.60 L548.00,185.60 Z"/><path d="M559.40,178.90 L562.90,184.50 L555.90,184.50 Z"/><path d="M567.50,177.70 L571.00,183.30 L564.00,183.30 Z"/><path d="M575.70,175.30 L579.20,180.90 L572.20,180.90 Z"/><path d="M584.20,173.10 L587.70,178.70 L580.70,178.70 Z"/><path d="M591.90,171.20 L595.40,176.80 L588.40,176.80 Z"/><path d="M600.00,169.20 L603.50,174.80 L596.50,174.80 Z"/><path d="M607.90,167.20 L611.40,172.80 L604.40,172.80 Z"/><path d="M616.20,164.80 L619.70,170.40 L612.70,170.40 Z"/><path d="M623.60,161.50 L627.10,167.10 L620.10,167.10 Z"/></g>
<path d="M378.30,199.18 L382.30,198.18 L386.30,197.25 L390.30,196.49 L394.30,195.73 L398.30,195.07 L402.30,194.43 L406.30,193.79 L410.30,193.18 L414.30,192.90 L418.30,192.62 L422.30,192.30 L426.30,191.96 L430.30,191.62 L434.30,191.28 L438.30,190.94 L442.30,190.62 L446.30,190.30 L450.30,189.98 L454.30,189.66 L458.30,189.34 L462.30,189.02 L466.30,188.70 L470.30,188.37 L474.30,187.95 L478.30,187.53 L482.30,187.11 L486.30,186.69 L490.30,186.28 L494.30,185.96 L498.30,185.64 L502.30,185.32 L506.30,185.00 L510.30,184.67 L514.30,184.25 L518.30,183.83 L522.30,183.41 L526.30,182.99 L530.30,182.56 L534.30,181.98 L538.30,181.41 L542.30,180.83 L552.00,177.40 L560.00,175.30 L567.80,173.00 L576.00,171.30 L584.20,169.40 L592.10,167.50 L600.00,165.40 L607.90,163.20 L616.30,160.60 L623.40,158.40" fill="none" stroke="#40a040" stroke-width="1.1"/>
<g fill="#fff" stroke="#208a20" stroke-width="1.1"><path d="M623.40,155.00 L627.00,158.40 L623.40,161.80 L619.80,158.40 Z"/><path d="M616.30,157.20 L619.90,160.60 L616.30,164.00 L612.70,160.60 Z"/><path d="M607.90,159.80 L611.50,163.20 L607.90,166.60 L604.30,163.20 Z"/><path d="M600.00,162.00 L603.60,165.40 L600.00,168.80 L596.40,165.40 Z"/><path d="M592.10,164.10 L595.70,167.50 L592.10,170.90 L588.50,167.50 Z"/><path d="M584.20,166.00 L587.80,169.40 L584.20,172.80 L580.60,169.40 Z"/><path d="M576.00,167.90 L579.60,171.30 L576.00,174.70 L572.40,171.30 Z"/><path d="M567.80,169.60 L571.40,173.00 L567.80,176.40 L564.20,173.00 Z"/><path d="M560.00,171.90 L563.60,175.30 L560.00,178.70 L556.40,175.30 Z"/><path d="M552.00,174.00 L555.60,177.40 L552.00,180.80 L548.40,177.40 Z"/><path d="M542.30,177.43 L545.90,180.83 L542.30,184.23 L538.70,180.83 Z"/><path d="M538.30,178.01 L541.90,181.41 L538.30,184.81 L534.70,181.41 Z"/><path d="M534.30,178.58 L537.90,181.98 L534.30,185.38 L530.70,181.98 Z"/><path d="M530.30,179.16 L533.90,182.56 L530.30,185.96 L526.70,182.56 Z"/><path d="M526.30,179.59 L529.90,182.99 L526.30,186.39 L522.70,182.99 Z"/><path d="M522.30,180.01 L525.90,183.41 L522.30,186.81 L518.70,183.41 Z"/><path d="M518.30,180.43 L521.90,183.83 L518.30,187.23 L514.70,183.83 Z"/><path d="M514.30,180.85 L517.90,184.25 L514.30,187.65 L510.70,184.25 Z"/><path d="M510.30,181.27 L513.90,184.67 L510.30,188.07 L506.70,184.67 Z"/><path d="M506.30,181.60 L509.90,185.00 L506.30,188.40 L502.70,185.00 Z"/><path d="M502.30,181.92 L505.90,185.32 L502.30,188.72 L498.70,185.32 Z"/><path d="M498.30,182.24 L501.90,185.64 L498.30,189.04 L494.70,185.64 Z"/><path d="M494.30,182.56 L497.90,185.96 L494.30,189.36 L490.70,185.96 Z"/><path d="M490.30,182.88 L493.90,186.28 L490.30,189.68 L486.70,186.28 Z"/><path d="M486.30,183.29 L489.90,186.69 L486.30,190.09 L482.70,186.69 Z"/><path d="M482.30,183.71 L485.90,187.11 L482.30,190.51 L478.70,187.11 Z"/><path d="M478.30,184.13 L481.90,187.53 L478.30,190.93 L474.70,187.53 Z"/><path d="M474.30,184.55 L477.90,187.95 L474.30,191.35 L470.70,187.95 Z"/><path d="M470.30,184.97 L473.90,188.37 L470.30,191.77 L466.70,188.37 Z"/><path d="M466.30,185.30 L469.90,188.70 L466.30,192.10 L462.70,188.70 Z"/><path d="M462.30,185.62 L465.90,189.02 L462.30,192.42 L458.70,189.02 Z"/><path d="M458.30,185.94 L461.90,189.34 L458.30,192.74 L454.70,189.34 Z"/><path d="M454.30,186.26 L457.90,189.66 L454.30,193.06 L450.70,189.66 Z"/><path d="M450.30,186.58 L453.90,189.98 L450.30,193.38 L446.70,189.98 Z"/><path d="M446.30,186.90 L449.90,190.30 L446.30,193.70 L442.70,190.30 Z"/><path d="M442.30,187.22 L445.90,190.62 L442.30,194.02 L438.70,190.62 Z"/><path d="M438.30,187.54 L441.90,190.94 L438.30,194.34 L434.70,190.94 Z"/><path d="M434.30,187.88 L437.90,191.28 L434.30,194.68 L430.70,191.28 Z"/><path d="M430.30,188.22 L433.90,191.62 L430.30,195.02 L426.70,191.62 Z"/><path d="M426.30,188.56 L429.90,191.96 L426.30,195.36 L422.70,191.96 Z"/><path d="M422.30,188.90 L425.90,192.30 L422.30,195.70 L418.70,192.30 Z"/><path d="M418.30,189.22 L421.90,192.62 L418.30,196.02 L414.70,192.62 Z"/><path d="M414.30,189.50 L417.90,192.90 L414.30,196.30 L410.70,192.90 Z"/><path d="M410.30,189.78 L413.90,193.18 L410.30,196.58 L406.70,193.18 Z"/><path d="M406.30,190.39 L409.90,193.79 L406.30,197.19 L402.70,193.79 Z"/><path d="M402.30,191.03 L405.90,194.43 L402.30,197.83 L398.70,194.43 Z"/><path d="M398.30,191.67 L401.90,195.07 L398.30,198.47 L394.70,195.07 Z"/><path d="M394.30,192.33 L397.90,195.73 L394.30,199.13 L390.70,195.73 Z"/><path d="M390.30,193.09 L393.90,196.49 L390.30,199.89 L386.70,196.49 Z"/><path d="M386.30,193.85 L389.90,197.25 L386.30,200.65 L382.70,197.25 Z"/><path d="M382.30,194.78 L385.90,198.18 L382.30,201.58 L378.70,198.18 Z"/><path d="M378.30,195.78 L381.90,199.18 L378.30,202.58 L374.70,199.18 Z"/></g>
</g>
<rect x="71.0" y="2.0" width="262.90" height="231.40" fill="none" stroke="#000" stroke-width="1.65"/>
<line x1="71.00" y1="233.40" x2="71.00" y2="226.40" stroke="#000" stroke-width="1.4"/>
<line x1="71.00" y1="2.00" x2="71.00" y2="9.00" stroke="#000" stroke-width="1.4"/>
<line x1="114.80" y1="233.40" x2="114.80" y2="229.40" stroke="#000" stroke-width="1.4"/>
<line x1="114.80" y1="2.00" x2="114.80" y2="6.00" stroke="#000" stroke-width="1.4"/>
<line x1="158.60" y1="233.40" x2="158.60" y2="226.40" stroke="#000" stroke-width="1.4"/>
<line x1="158.60" y1="2.00" x2="158.60" y2="9.00" stroke="#000" stroke-width="1.4"/>
<line x1="202.40" y1="233.40" x2="202.40" y2="229.40" stroke="#000" stroke-width="1.4"/>
<line x1="246.20" y1="233.40" x2="246.20" y2="226.40" stroke="#000" stroke-width="1.4"/>
<line x1="290.00" y1="233.40" x2="290.00" y2="229.40" stroke="#000" stroke-width="1.4"/>
<line x1="333.80" y1="233.40" x2="333.80" y2="226.40" stroke="#000" stroke-width="1.4"/>
<line x1="71.00" y1="233.40" x2="78.00" y2="233.40" stroke="#000" stroke-width="1.4"/>
<line x1="333.90" y1="233.40" x2="326.90" y2="233.40" stroke="#000" stroke-width="1.4"/>
<line x1="71.00" y1="197.84" x2="75.00" y2="197.84" stroke="#000" stroke-width="1.4"/>
<line x1="333.90" y1="197.84" x2="329.90" y2="197.84" stroke="#000" stroke-width="1.4"/>
<line x1="71.00" y1="162.28" x2="78.00" y2="162.28" stroke="#000" stroke-width="1.4"/>
<line x1="71.00" y1="126.72" x2="75.00" y2="126.72" stroke="#000" stroke-width="1.4"/>
<line x1="71.00" y1="91.16" x2="78.00" y2="91.16" stroke="#000" stroke-width="1.4"/>
<line x1="71.00" y1="55.60" x2="75.00" y2="55.60" stroke="#000" stroke-width="1.4"/>
<line x1="71.00" y1="20.04" x2="78.00" y2="20.04" stroke="#000" stroke-width="1.4"/>
<rect x="179.4" y="2.0" width="154.50" height="160.00" fill="none" stroke="#000" stroke-width="1.65"/>
<line x1="190.20" y1="162.00" x2="190.20" y2="155.00" stroke="#000" stroke-width="1.4"/>
<line x1="190.20" y1="2.00" x2="190.20" y2="9.00" stroke="#000" stroke-width="1.4"/>
<line x1="212.32" y1="162.00" x2="212.32" y2="158.00" stroke="#000" stroke-width="1.4"/>
<line x1="212.32" y1="2.00" x2="212.32" y2="6.00" stroke="#000" stroke-width="1.4"/>
<line x1="234.44" y1="162.00" x2="234.44" y2="155.00" stroke="#000" stroke-width="1.4"/>
<line x1="234.44" y1="2.00" x2="234.44" y2="9.00" stroke="#000" stroke-width="1.4"/>
<line x1="256.56" y1="162.00" x2="256.56" y2="158.00" stroke="#000" stroke-width="1.4"/>
<line x1="256.56" y1="2.00" x2="256.56" y2="6.00" stroke="#000" stroke-width="1.4"/>
<line x1="278.68" y1="162.00" x2="278.68" y2="155.00" stroke="#000" stroke-width="1.4"/>
<line x1="278.68" y1="2.00" x2="278.68" y2="9.00" stroke="#000" stroke-width="1.4"/>
<line x1="300.80" y1="162.00" x2="300.80" y2="158.00" stroke="#000" stroke-width="1.4"/>
<line x1="300.80" y1="2.00" x2="300.80" y2="6.00" stroke="#000" stroke-width="1.4"/>
<line x1="322.92" y1="162.00" x2="322.92" y2="155.00" stroke="#000" stroke-width="1.4"/>
<line x1="322.92" y1="2.00" x2="322.92" y2="9.00" stroke="#000" stroke-width="1.4"/>
<line x1="179.40" y1="126.10" x2="183.40" y2="126.10" stroke="#000" stroke-width="1.4"/>
<line x1="333.90" y1="126.10" x2="329.90" y2="126.10" stroke="#000" stroke-width="1.4"/>
<line x1="179.40" y1="90.60" x2="186.40" y2="90.60" stroke="#000" stroke-width="1.4"/>
<line x1="333.90" y1="90.60" x2="326.90" y2="90.60" stroke="#000" stroke-width="1.4"/>
<line x1="179.40" y1="55.10" x2="183.40" y2="55.10" stroke="#000" stroke-width="1.4"/>
<line x1="333.90" y1="55.10" x2="329.90" y2="55.10" stroke="#000" stroke-width="1.4"/>
<line x1="179.40" y1="19.60" x2="186.40" y2="19.60" stroke="#000" stroke-width="1.4"/>
<line x1="333.90" y1="19.60" x2="326.90" y2="19.60" stroke="#000" stroke-width="1.4"/>
<rect x="361.9" y="2.0" width="262.60" height="231.35" fill="none" stroke="#000" stroke-width="1.65"/>
<line x1="382.10" y1="233.35" x2="382.10" y2="226.35" stroke="#000" stroke-width="1.4"/>
<line x1="382.10" y1="2.00" x2="382.10" y2="9.00" stroke="#000" stroke-width="1.4"/>
<line x1="422.55" y1="233.35" x2="422.55" y2="229.35" stroke="#000" stroke-width="1.4"/>
<line x1="422.55" y1="2.00" x2="422.55" y2="6.00" stroke="#000" stroke-width="1.4"/>
<line x1="463.00" y1="233.35" x2="463.00" y2="226.35" stroke="#000" stroke-width="1.4"/>
<line x1="463.00" y1="2.00" x2="463.00" y2="9.00" stroke="#000" stroke-width="1.4"/>
<line x1="503.45" y1="233.35" x2="503.45" y2="229.35" stroke="#000" stroke-width="1.4"/>
<line x1="503.45" y1="2.00" x2="503.45" y2="6.00" stroke="#000" stroke-width="1.4"/>
<line x1="543.90" y1="233.35" x2="543.90" y2="226.35" stroke="#000" stroke-width="1.4"/>
<line x1="543.90" y1="2.00" x2="543.90" y2="9.00" stroke="#000" stroke-width="1.4"/>
<line x1="584.35" y1="233.35" x2="584.35" y2="229.35" stroke="#000" stroke-width="1.4"/>
<line x1="584.35" y1="2.00" x2="584.35" y2="6.00" stroke="#000" stroke-width="1.4"/>
<line x1="361.90" y1="204.43" x2="368.90" y2="204.43" stroke="#000" stroke-width="1.4"/>
<line x1="624.50" y1="204.43" x2="617.50" y2="204.43" stroke="#000" stroke-width="1.4"/>
<line x1="361.90" y1="175.51" x2="365.90" y2="175.51" stroke="#000" stroke-width="1.4"/>
<line x1="624.50" y1="175.51" x2="620.50" y2="175.51" stroke="#000" stroke-width="1.4"/>
<line x1="361.90" y1="146.59" x2="368.90" y2="146.59" stroke="#000" stroke-width="1.4"/>
<line x1="624.50" y1="146.59" x2="617.50" y2="146.59" stroke="#000" stroke-width="1.4"/>
<line x1="361.90" y1="117.67" x2="365.90" y2="117.67" stroke="#000" stroke-width="1.4"/>
<line x1="624.50" y1="117.67" x2="620.50" y2="117.67" stroke="#000" stroke-width="1.4"/>
<line x1="361.90" y1="88.75" x2="368.90" y2="88.75" stroke="#000" stroke-width="1.4"/>
<line x1="624.50" y1="88.75" x2="617.50" y2="88.75" stroke="#000" stroke-width="1.4"/>
<line x1="361.90" y1="59.83" x2="365.90" y2="59.83" stroke="#000" stroke-width="1.4"/>
<line x1="624.50" y1="59.83" x2="620.50" y2="59.83" stroke="#000" stroke-width="1.4"/>
<line x1="361.90" y1="30.91" x2="368.90" y2="30.91" stroke="#000" stroke-width="1.4"/>
<line x1="624.50" y1="30.91" x2="617.50" y2="30.91" stroke="#000" stroke-width="1.4"/>
<text x="63.00" y="239.30" font-size="18.4" text-anchor="end" >0</text>
<text x="63.00" y="167.90" font-size="18.4" text-anchor="end" >0.02</text>
<text x="63.00" y="96.80" font-size="18.4" text-anchor="end" >0.04</text>
<text x="63.00" y="25.50" font-size="18.4" text-anchor="end" >0.06</text>
<text x="71.00" y="256.40" font-size="18.4" text-anchor="middle" >0</text>
<text x="158.60" y="256.40" font-size="18.4" text-anchor="middle" >50</text>
<text x="246.20" y="256.40" font-size="18.4" text-anchor="middle" >100</text>
<text x="333.80" y="256.40" font-size="18.4" text-anchor="middle" >150</text>
<text x="202.50" y="281.80" font-size="22" text-anchor="middle" >T (K)</text>
<text transform="translate(17.8,176.4) rotate(-90)" font-size="21" font-family="Liberation Serif" font-style="italic">χ</text>
<text transform="translate(17.8,159.0) rotate(-90)" font-size="22.2">(emu/mol)</text>
<text x="93.30" y="27.70" font-size="22" text-anchor="start" >a<tspan dx="1.2">)</tspan></text>
<text x="75.00" y="220.70" font-size="18.5" text-anchor="start" >H = 0.1T</text>
<text x="171.40" y="166.80" font-size="15.5" text-anchor="end" >0.02</text>
<text x="171.40" y="95.80" font-size="15.5" text-anchor="end" >0.04</text>
<text x="171.40" y="24.80" font-size="15.5" text-anchor="end" >0.06</text>
<text x="190.20" y="182.70" font-size="16" text-anchor="middle" >2</text>
<text x="234.44" y="182.70" font-size="16" text-anchor="middle" >4</text>
<text x="278.68" y="182.70" font-size="16" text-anchor="middle" >6</text>
<text x="322.92" y="182.70" font-size="16" text-anchor="middle" >8</text>
<rect x="248.7" y="101.8" width="4.6" height="4.6" fill="none" stroke="#777" stroke-width="1"/>
<circle cx="251" cy="119.0" r="2.4" fill="none" stroke="#f07878" stroke-width="1"/>
<path fill="none" stroke="#80e080" stroke-width="1" d="M251.00,131.50 L253.90,136.50 L248.10,136.50 Z"/>
<text x="268.30" y="107.80" font-size="12.8" text-anchor="start" >H ll a</text>
<text x="268.30" y="123.30" font-size="12.8" text-anchor="start" >H ll b</text>
<text x="268.30" y="138.80" font-size="12.8" text-anchor="start" >H ll a</text>
<path d="M299.7,139 V143.4 M297.3,143.4 H302.1" stroke="#444" stroke-width="0.8" fill="none"/>
<text x="382.10" y="256.20" font-size="18" text-anchor="middle" >2</text>
<text x="463.00" y="256.20" font-size="18" text-anchor="middle" >4</text>
<text x="543.90" y="256.20" font-size="18" text-anchor="middle" >6</text>
<text x="624.80" y="256.20" font-size="18" text-anchor="middle" >8</text>
<text x="632.80" y="210.23" font-size="18" text-anchor="start" >1</text>
<text x="632.80" y="152.39" font-size="18" text-anchor="start" >3</text>
<text x="632.80" y="94.55" font-size="18" text-anchor="start" >5</text>
<text x="632.80" y="36.71" font-size="18" text-anchor="start" >7</text>
<text x="498.90" y="281.80" font-size="22" text-anchor="middle" >T (K)</text>
<text x="370.20" y="27.20" font-size="22" text-anchor="start" >b)</text>
<text x="446.6" y="34.6" font-size="24">PbCuSO<tspan font-size="15" dx="2.3" dy="9.7">4</tspan><tspan dx="0.4" dy="-9.7" letter-spacing="0.5">(OH)</tspan><tspan font-size="15" dx="0.2" dy="9.7">2</tspan></text>
<text x="544.60" y="86.90" font-size="18.2" text-anchor="start" >H ll a</text>
<text transform="translate(658.6,62.6) rotate(90)" font-size="22">C<tspan font-size="11.5" dy="9">p</tspan><tspan dy="-9"> (J/molK)</tspan></text>
<line x1="459.1" y1="60.6" x2="487.2" y2="60.6" stroke="#5050b0" stroke-width="1.1"/>
<rect x="470.9" y="58.0" width="5.2" height="5.2" fill="#000090"/>
<text x="490.80" y="64.90" font-size="12.2" text-anchor="start" >H = 0T</text>
<line x1="459.1" y1="76.1" x2="487.2" y2="76.1" stroke="#e050e0" stroke-width="1.1"/>
<circle cx="473.5" cy="76.1" r="2.6" fill="#fff" stroke="#e000e0" stroke-width="1.1"/>
<text x="490.80" y="80.40" font-size="12.2" text-anchor="start" >H = 2T</text>
<line x1="459.1" y1="91.3" x2="487.2" y2="91.3" stroke="#707070" stroke-width="1.1"/>
<path fill="#333" d="M473.50,88.00 L477.00,93.60 L470.00,93.60 Z"/>
<text x="490.80" y="95.60" font-size="12.2" text-anchor="start" >H = 4T</text>
<line x1="459.1" y1="106.8" x2="487.2" y2="106.8" stroke="#40a040" stroke-width="1.1"/>
<path fill="#fff" stroke="#208a20" stroke-width="1.1" d="M473.50,103.40 L477.10,106.80 L473.50,110.20 L469.90,106.80 Z"/>
<text x="490.80" y="111.10" font-size="12.2" text-anchor="start" >H = 6T</text>
</svg></body></html>
